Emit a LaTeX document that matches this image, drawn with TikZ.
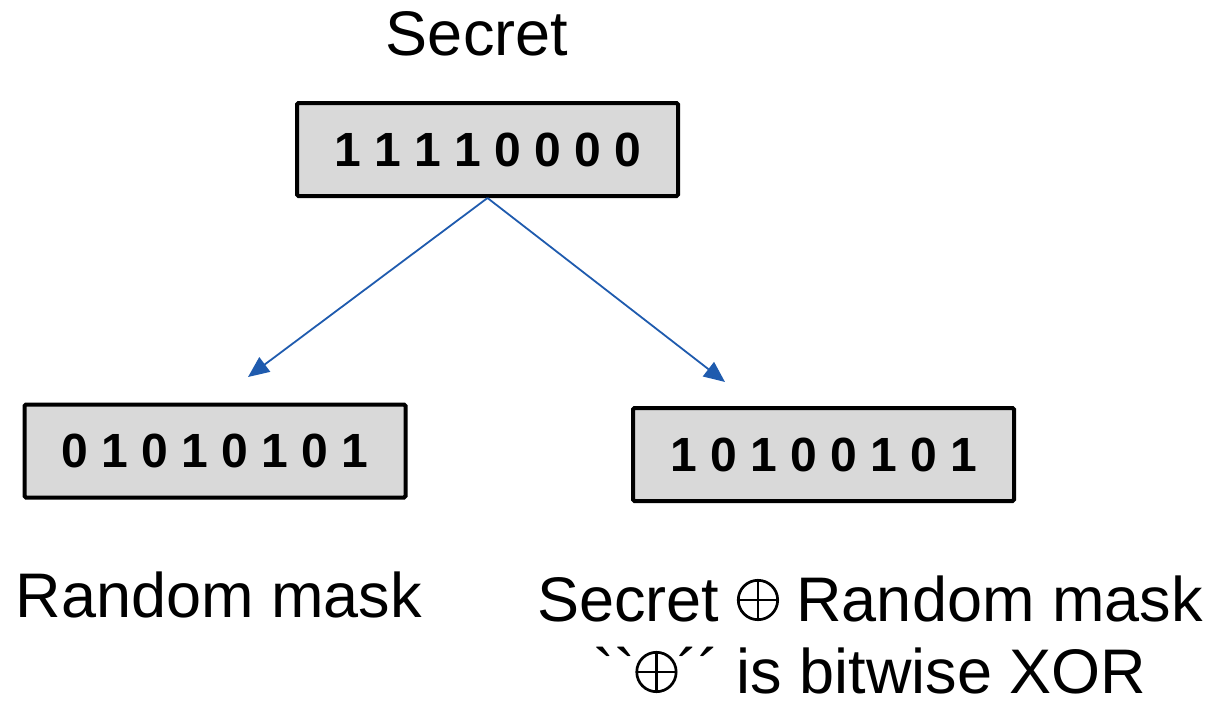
\documentclass[tikz,border=0pt]{standalone}
\usepackage{fontspec}
\setmainfont{Liberation Sans}
\newfontfamily\rawfont{Liberation Sans}
\usetikzlibrary{arrows.meta}
\definecolor{boxgray}{HTML}{D9D9D9}
\definecolor{arrowblue}{HTML}{1F5BAE}
\newcommand{\xorsign}{\tikz[baseline=0pt,x=1pt,y=1pt,line width=2.7pt]{%
	\useasboundingbox (0,0) rectangle (42,40);
	\draw (21,21) circle (19.7pt);
	\draw (21,1.3) -- (21,40.7) (1.3,21) -- (40.7,21);}}

\tikzset{
	bitbox/.style={draw=black, fill=boxgray, line width=4pt, rounded corners=1.5pt,
		minimum width=381pt, minimum height=93pt, inner sep=0pt,
		font=\fontsize{48}{58}\selectfont\bfseries},
	label/.style={anchor=base, inner sep=0pt, font=\fontsize{63}{76}\selectfont},
	share/.style={arrowblue, line width=1.8pt, -{Triangle[length=21pt,width=18pt]}}
}

\begin{document}
\begin{tikzpicture}[x=1pt,y=-1pt]
				\useasboundingbox (0,0) rectangle (1219,704);
				
				\node[label] (title) at (477,55) {Secret};
				\node[bitbox] (secret) at (487.5,149.5) {1 1 1 1 0 0 0 0};
				\node[bitbox] (mask) at (215,451) {0 1 0 1 0 1 0 1};
				\node[bitbox] (masked) at (823.5,454.5) {1 0 1 0 0 1 0 1};
				
				\coordinate (maskend) at (248,377);
				\coordinate (maskedend) at (725,382);
				\draw[share] (secret.south) -- (maskend);
				\draw[share] (secret.south) -- (maskedend);
				
				\node[label] (masktext) at (219,617) {Random mask};
				\node[label] (xortext) at (870,621) {Secret \xorsign{} Random mask};
				\node[label] (xornote) at (870,693) {{\rawfont ``}\xorsign{\rawfont ´´} is bitwise XOR};
			\end{tikzpicture}
\end{document}
